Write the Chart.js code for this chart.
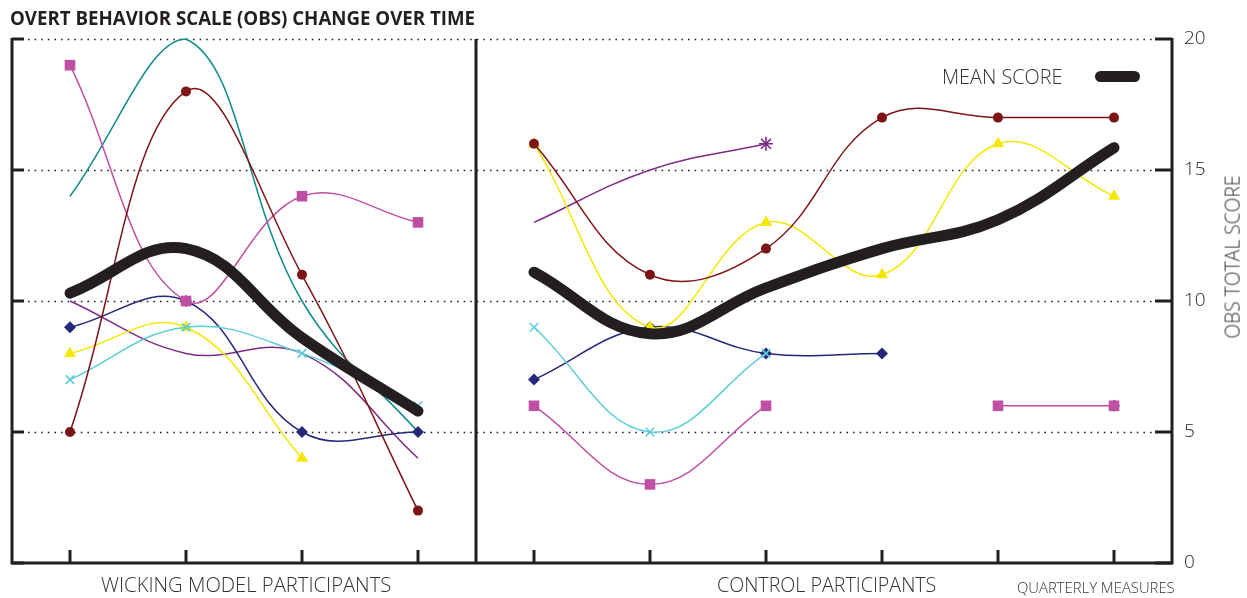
<!DOCTYPE html>
<html>
<head>
<meta charset="utf-8">
<script src="https://cdn.jsdelivr.net/npm/chart.js@4/dist/chart.umd.min.js"></script>
<style>
  body { margin: 0; background: #fff; }
  #wrap { position: relative; width: 1247px; height: 598px; overflow: hidden; }
  .lbl { position: absolute; white-space: nowrap; line-height: 1; color: #231f20; font-family: 'Open Sans', sans-serif; font-weight: 300; transform-origin: left center; }
  #title { font-weight: 700; font-size: 19px; }
  .axis-lbl { font-size: 20px; color: #333; }
  #quarterly { font-size: 14px; color: #333; }
  #ytitle { position: absolute; white-space: nowrap; line-height: 1; color: #333; font-family: 'Open Sans', sans-serif; font-weight: 300; font-size: 20px; transform-origin: center center; }
  #swatch { position: absolute; left: 1095px; top: 71px; width: 45px; height: 11px; border-radius: 5.5px; background: #231f20; }
</style>
</head>
<body>
<div id="wrap">
  <canvas id="obsChart" width="1247" height="598"></canvas>
  <div class="lbl" id="title" data-x0="10" data-x1="475" data-cy="18.5">OVERT BEHAVIOR SCALE (OBS) CHANGE OVER TIME</div>
  <div class="lbl axis-lbl" data-x0="101" data-x1="391" data-cy="585">WICKING MODEL PARTICIPANTS</div>
  <div class="lbl axis-lbl" data-x0="717" data-x1="936" data-cy="585">CONTROL PARTICIPANTS</div>
  <div class="lbl" id="quarterly" data-x0="1017" data-x1="1175" data-cy="588">QUARTERLY MEASURES</div>
  <div class="lbl axis-lbl" data-x0="942" data-x1="1062" data-cy="77">MEAN SCORE</div>
  <div id="ytitle">OBS TOTAL SCORE</div>
  <div id="swatch"></div>
</div>
<script>
// Mediciones trimestrales: 4 del grupo Wicking, 6 del grupo control
const quarterLabels = ['W1', 'W2', 'W3', 'W4', 'C1', 'C2', 'C3', 'C4', 'C5', 'C6'];
const yTicks = [0, 5, 10, 15, 20];

// Puntuación media (línea gruesa)
const meanWicking = [10.3, 12.0, 8.6, 5.8];
const meanControl = [11.1, 8.75, 10.5, 12.0, 13.1, 15.85];

// Participantes individuales
const maroonWicking = [5, 18, 11, 2];
const maroonControl = [16, 11, 12, 17, 17, 17];
const magentaWicking = [19, 10, 14, 13];
const magentaControl = [6, 3, 6, null, 6, 6];
const tealWicking = [14, 20, 10, 5];
const navyWicking = [9, 10, 5, 5];
const navyControl = [7, 9, 8, 8, null, 6];
const yellowWicking = [8, 9, 4, null];
const yellowControl = [16, 9, 13, 11, 16, 14];
const cyanWicking = [7, 9, 8, 6];
const cyanControl = [9, 5, 8];
const purpleWicking = [10, 8, 8, 4];
const purpleControl = [13, 15, 16];

// --- Utilidades ---
const N = quarterLabels.length;
function wicking(arr) { const d = new Array(N).fill(null); arr.forEach((v, i) => d[i] = v); return d; }
function control(arr) { const d = new Array(N).fill(null); arr.forEach((v, i) => d[4 + i] = v); return d; }

const INK = '#231f20';

function series(data, color, style, radius) {
    return {
        data: data,
        borderColor: color,
        backgroundColor: color,
        borderWidth: 1.5,
        tension: 0.4,
        pointStyle: style,
        pointRadius: radius,
        pointBorderWidth: style === 'crossRot' || style === 'star' ? 1.6 : 0,
        spanGaps: false,
        clip: 12
    };
}

function meanSeries(data) {
    return {
        data: data,
        borderColor: INK,
        borderWidth: 11,
        borderCapStyle: 'round',
        borderJoinStyle: 'round',
        tension: 0.4,
        pointRadius: 0,
        spanGaps: false,
        clip: 12
    };
}

const COLORS = {
    maroon: '#7d1416',
    magenta: '#bf4fa2',
    teal: '#108b8b',
    navy: '#25287a',
    yellow: '#f4e800',
    cyan: '#5ccdda',
    purple: '#7c2c86'
};

// El primer dataset se dibuja encima
const datasets = [
    meanSeries(wicking(meanWicking)),
    meanSeries(control(meanControl)),
    series(wicking(maroonWicking), COLORS.maroon, 'circle', 5),
    series(control(maroonControl), COLORS.maroon, 'circle', 5),
    series(wicking(magentaWicking), COLORS.magenta, 'rect', 7.5),
    series(control(magentaControl), COLORS.magenta, 'rect', 7.5),
    series(wicking(cyanWicking), COLORS.cyan, 'crossRot', 6),
    series(control(cyanControl), COLORS.cyan, 'crossRot', 6),
    series(wicking(yellowWicking), COLORS.yellow, 'triangle', 7),
    series(control(yellowControl), COLORS.yellow, 'triangle', 7),
    series(wicking(navyWicking), COLORS.navy, 'rectRot', 6),
    series(control(navyControl), COLORS.navy, 'rectRot', 6),
    series(wicking(purpleWicking), COLORS.purple, 'star', 0),
    series(control(purpleControl), COLORS.purple, 'star', ctx => ctx.dataIndex === 6 ? 7 : 0),
    series(wicking(tealWicking), COLORS.teal, 'circle', 0)
];

// --- Marco, rejilla punteada y marcas de los ejes ---
const framePlugin = {
    id: 'frame',
    beforeDatasetsDraw(chart) {
        const { ctx, chartArea: a, scales: { x, y } } = chart;
        ctx.save();
        // rejilla punteada
        ctx.strokeStyle = INK;
        ctx.lineWidth = 1.6;
        ctx.setLineDash([1.6, 5]);
        yTicks.filter(v => v > 0).forEach(v => {
            const py = Math.round(y.getPixelForValue(v)) + 0.5;
            ctx.beginPath();
            ctx.moveTo(a.left + 16, py);
            ctx.lineTo(a.right - 18, py);
            ctx.stroke();
        });
        ctx.setLineDash([]);

        // marcas en los ejes
        ctx.lineWidth = 3;
        yTicks.forEach(v => {
            const py = y.getPixelForValue(v);
            ctx.beginPath();
            ctx.moveTo(a.left, py); ctx.lineTo(a.left + 12, py);
            ctx.moveTo(a.right - 17, py); ctx.lineTo(a.right, py);
            ctx.stroke();
        });
        quarterLabels.forEach((q, i) => {
            const px = x.getPixelForValue(i);
            ctx.beginPath();
            ctx.moveTo(px, a.bottom); ctx.lineTo(px, a.bottom - 13);
            ctx.stroke();
        });

        // bordes y separador de paneles
        const divX = (x.getPixelForValue(3) + x.getPixelForValue(4)) / 2;
        ctx.beginPath();
        ctx.moveTo(a.left, a.top - 1); ctx.lineTo(a.left, a.bottom);
        ctx.lineTo(a.right, a.bottom); ctx.lineTo(a.right, a.top - 1);
        ctx.moveTo(divX, a.top); ctx.lineTo(divX, a.bottom);
        ctx.stroke();
        ctx.restore();
    }
};

new Chart(document.getElementById('obsChart').getContext('2d'), {
    type: 'line',
    data: { labels: quarterLabels, datasets: datasets },
    options: {
        responsive: false,
        animation: false,
        events: [],
        layout: { padding: { left: 12, top: 39, right: 0, bottom: 35 } },
        plugins: { legend: { display: false }, tooltip: { enabled: false } },
        scales: {
            x: { type: 'category', display: false, offset: true },
            y: {
                position: 'right',
                min: 0,
                max: 20,
                afterFit: s => { s.width = 75; },
                grid: { display: false, drawTicks: false },
                border: { display: false },
                ticks: {
                    stepSize: 5,
                    padding: 12,
                    color: INK,
                    font: { family: 'Open Sans', weight: '300', size: 19 }
                }
            }
        }
    },
    plugins: [framePlugin]
});

// --- Ajuste de las etiquetas de texto al ancho del original ---
document.querySelectorAll('.lbl').forEach(el => {
    const x0 = +el.dataset.x0, x1 = +el.dataset.x1, cy = +el.dataset.cy;
    el.style.left = x0 + 'px';
    el.style.top = (cy - el.offsetHeight / 2) + 'px';
    el.style.transform = `scaleX(${(x1 - x0) / el.offsetWidth})`;
});
const yt = document.getElementById('ytitle');
yt.style.left = (1232 - yt.offsetWidth / 2) + 'px';
yt.style.top = (257 - yt.offsetHeight / 2) + 'px';
yt.style.transform = `rotate(-90deg) scaleX(${163 / yt.offsetWidth})`;
</script>
</body>
</html>
